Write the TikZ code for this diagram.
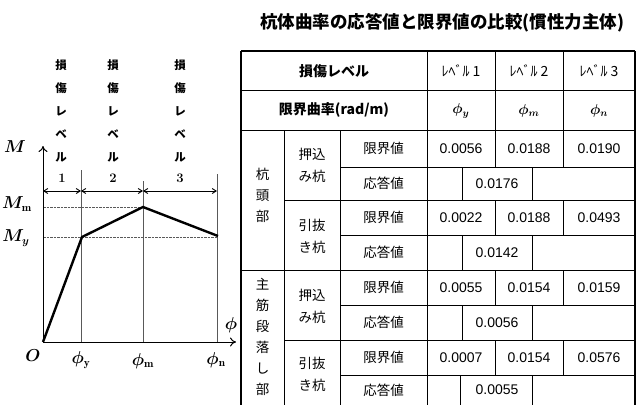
\documentclass[tikz,border=0pt]{standalone}
\usepackage{fontspec}
\usepackage{bm}
\usetikzlibrary{arrows.meta}
\newfontfamily\jp{Noto Sans CJK JP}
\newfontfamily\num{Liberation Sans}
\tikzset{
  thin line/.style={line width=0.8pt},
  outer line/.style={line width=1.4pt},
  cjk/.style={font=\jp\fontsize{13.5}{16}\selectfont, inner sep=0pt},
  cjkh/.style={font=\jp\bfseries\fontsize{14}{16}\selectfont, inner sep=0pt},
  cjkv/.style={font=\jp\fontsize{13.5}{21}\selectfont, align=center, inner sep=0pt},
  cjk2/.style={font=\jp\fontsize{13.5}{22}\selectfont, align=center, inner sep=0pt},
  val/.style={font=\num\fontsize{14}{16}\selectfont, inner sep=0pt},
  lvl/.style={font=\jp\fontsize{14}{16}\selectfont, inner sep=0pt},
  phil/.style={font=\fontsize{14}{16}\selectfont, inner sep=0pt},
  vt/.style={font=\jp\bfseries\fontsize{11.5}{23}\selectfont, align=center, inner sep=0pt},
  glab/.style={font=\fontsize{16}{18}\selectfont, inner sep=0pt},
  numlab/.style={font=\fontsize{13}{15}\selectfont\bfseries, inner sep=0pt},
  dim/.style={line width=0.9pt, {Straight Barb[length=4pt,width=5pt]}-{Straight Barb[length=4pt,width=5pt]}},
  guide/.style={line width=0.6pt, gray!70!black},
  dashguide/.style={line width=0.8pt, gray!70!black, dash pattern=on 2.5pt off 1pt},
  curve/.style={line width=2.4pt, line join=miter},
  axis/.style={line width=1pt, -{To[length=6pt,width=9pt]}}
}
\begin{document}
\begin{tikzpicture}[x=1pt,y=-1pt]
\useasboundingbox (0,0) rectangle (637,405);
% ---------------- title
\node[font=\jp\bfseries\fontsize{17.5}{20}\selectfont, inner sep=0pt] (title) at (442,23) {杭体曲率の応答値と限界値の比較(慣性力主体)};

% ---------------- graph
\coordinate (O) at (43,342);
\coordinate (ytop) at (43,146);
\coordinate (xend) at (236,342);
\coordinate (Py) at (82,237);
\coordinate (Pm) at (143,207);
\coordinate (Pn) at (218,236);
\coordinate (Ay) at (43,237);
\coordinate (Am) at (43,207);
\coordinate (By) at (217,237);
\coordinate (Vy) at (81,170);
\coordinate (Vyb) at (81,342);
\coordinate (Vm) at (143,181);
\coordinate (Vmb) at (143,342);
\coordinate (Vn) at (217,174);
\coordinate (Vnb) at (217,342);
\coordinate (D0) at (43,191);
\coordinate (D1) at (81,191);
\coordinate (D2) at (143,191);
\coordinate (D3) at (217,191);

\draw[guide] (Vy) -- (Vyb);
\draw[guide] (Vm) -- (Vmb);
\draw[guide] (Vn) -- (Vnb);
\draw[dashguide] (Am) -- (Pm);
\draw[dashguide] (Ay) -- (By);
\draw[dim] (D0) -- (D1);
\draw[dim] (D1) -- (D2);
\draw[dim] (D2) -- (D3);
\draw[axis] (O) -- (ytop);
\draw[axis] (O) -- (xend);
\draw[curve] (O) -- (Py) -- (Pm) -- (Pn);

\node[vt] (dl1) at (61,111) {損\\傷\\レ\\ベ\\ル};
\node[vt] (dl2) at (113,111) {損\\傷\\レ\\ベ\\ル};
\node[vt] (dl3) at (180,111) {損\\傷\\レ\\ベ\\ル};
\node[numlab] (n1) at (62,178) {1};
\node[numlab] (n2) at (113,178) {2};
\node[numlab] (n3) at (180,178) {3};

\node[glab] (lM) at (15,147) {$\bm{M}$};
\node[glab] (lMm) at (17,204) {$\bm{M}_{\mathbf{m}}$};
\node[glab] (lMy) at (16,238) {$\bm{M_{y}}$};
\node[glab] (lO) at (33,356) {$\bm{O}$};
\node[glab] (lphi) at (231,325) {$\bm{\phi}$};
\node[glab] (lphy) at (81,360) {$\bm{\phi}_{\mathbf{y}}$};
\node[glab] (lphm) at (143,361) {$\bm{\phi}_{\mathbf{m}}$};
\node[glab] (lphn) at (216,360) {$\bm{\phi}_{\mathbf{n}}$};

% ---------------- table lines
% horizontals
\draw[outer line] (241,51) -- (635,51);
\draw[thin line] (241,90) -- (635,90);
\draw[thin line] (241,130) -- (635,130);
\draw[thin line] (340,167) -- (635,167);
\draw[thin line] (284,200) -- (635,200);
\draw[thin line] (340,235) -- (635,235);
\draw[thin line] (241,270) -- (635,270);
\draw[thin line] (340,305) -- (635,305);
\draw[thin line] (284,340) -- (635,340);
\draw[thin line] (340,375) -- (635,375);
% verticals
\draw[outer line] (241,51) -- (241,405);
\draw[outer line] (635,51) -- (635,405);
\draw[thin line] (284,130) -- (284,405);
\draw[thin line] (340,130) -- (340,405);
\draw[thin line] (427,51) -- (427,405);
\foreach \xx in {495,563} {
  \draw[thin line] (\xx,51) -- (\xx,167);
  \draw[thin line] (\xx,200) -- (\xx,235);
  \draw[thin line] (\xx,270) -- (\xx,305);
  \draw[thin line] (\xx,340) -- (\xx,375);
}
\draw[thin line] (462,167) -- (462,200);
\draw[thin line] (532,167) -- (532,200);
\draw[thin line] (462,235) -- (462,270);
\draw[thin line] (532,235) -- (532,270);
\draw[thin line] (462,305) -- (462,340);
\draw[thin line] (532,305) -- (532,340);
\draw[thin line] (460,375) -- (460,405);
\draw[thin line] (532,375) -- (532,405);

% ---------------- table text
\node[cjkh] (hdmg) at (334,71) {損傷レベル};
\node[lvl] (hl1) at (461,71) {ﾚﾍﾞﾙ 1};
\node[lvl] (hl2) at (529,71) {ﾚﾍﾞﾙ 2};
\node[lvl] (hl3) at (599,71) {ﾚﾍﾞﾙ 3};
\node[cjkh] (hlim) at (334,110) {限界曲率(rad/m)};
\node[phil] (hpy) at (461,111) {$\bm{\phi_{y}}$};
\node[phil] (hpm) at (529,111) {$\bm{\phi_{m}}$};
\node[phil] (hpn) at (599,111) {$\bm{\phi_{n}}$};

\node[cjkv] (g1) at (262.5,195) {杭\\頭\\部};
\node[cjkv] (g2) at (262.5,337) {主\\筋\\段\\落\\し\\部};
\node[cjk2] (s1) at (312,165) {押込\\み杭};
\node[cjk2] (s2) at (312,236) {引抜\\き杭};
\node[cjk2] (s3) at (312,306) {押込\\み杭};
\node[cjk2] (s4) at (312,374) {引抜\\き杭};

\node[cjk] (k1) at (383.5,148.5) {限界値};
\node[cjk] (o1) at (383.5,183.5) {応答値};
\node[cjk] (k2) at (383.5,217.5) {限界値};
\node[cjk] (o2) at (383.5,252.5) {応答値};
\node[cjk] (k3) at (383.5,287.5) {限界値};
\node[cjk] (o3) at (383.5,322.5) {応答値};
\node[cjk] (k4) at (383.5,357.5) {限界値};
\node[cjk] (o4) at (383.5,390) {応答値};

\node[val] (v11) at (461,148.5) {0.0056};
\node[val] (v12) at (529,148.5) {0.0188};
\node[val] (v13) at (599,148.5) {0.0190};
\node[val] (r1) at (497,183.5) {0.0176};
\node[val] (v21) at (461,217.5) {0.0022};
\node[val] (v22) at (529,217.5) {0.0188};
\node[val] (v23) at (599,217.5) {0.0493};
\node[val] (r2) at (497,252.5) {0.0142};
\node[val] (v31) at (461,287.5) {0.0055};
\node[val] (v32) at (529,287.5) {0.0154};
\node[val] (v33) at (599,287.5) {0.0159};
\node[val] (r3) at (497,322.5) {0.0056};
\node[val] (v41) at (461,357.5) {0.0007};
\node[val] (v42) at (529,357.5) {0.0154};
\node[val] (v43) at (599,357.5) {0.0576};
\node[val] (r4) at (497,390) {0.0055};
\end{tikzpicture}
\end{document}
